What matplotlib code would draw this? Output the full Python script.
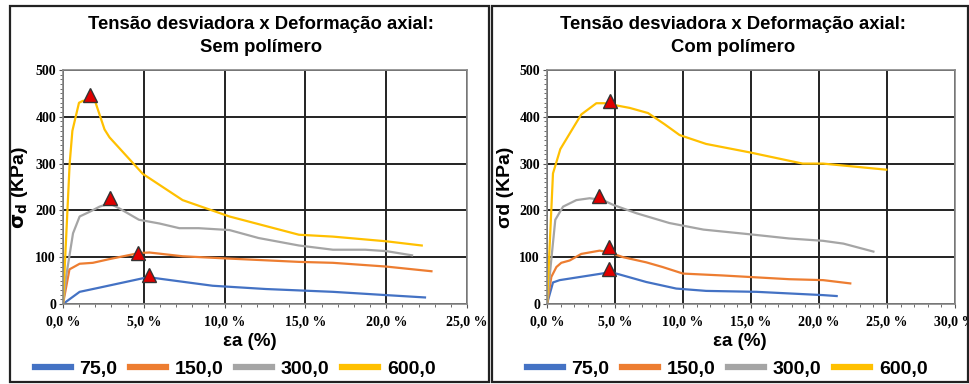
import matplotlib.pyplot as plt
from matplotlib.patches import Rectangle
from matplotlib.ticker import MultipleLocator, FuncFormatter
from matplotlib.lines import Line2D

# dados (eps_a em %, sigma_d em kPa)
labels = ["75,0", "150,0", "300,0", "600,0"]
colors = ["#4472C4", "#ED7D31", "#A5A5A5", "#FFC000"]

# sem polimero
sem_x = [
    [0, 1.03, 2.26, 4.94, 5.56, 9.26, 12.55, 16.7, 20.0, 22.4],
    [0, 0.4, 1.03, 1.85, 2.88, 4.73, 5.35, 7.4, 10.3, 14.6, 16.7, 20.0, 22.8],
    [0, 0.2, 0.62, 1.03, 1.65, 2.26, 2.88, 3.5, 4.7, 5.97, 7.2, 8.4, 10.3, 12.1, 14.6, 16.7, 18.7, 20.0, 21.6],
    [0, 0.41, 0.58, 0.99, 1.23, 1.95, 2.57, 2.88, 4.94, 7.4, 10.3, 14.6, 16.7, 20.0, 22.2],
]
sem_y = [
    [0, 26, 35, 55, 56, 39, 32, 26, 19, 14],
    [0, 74, 86, 88, 96, 109, 110, 102, 97, 90, 88, 80, 70],
    [0, 60, 151, 187, 197, 208, 215, 204, 180, 172, 162, 162, 158, 141, 125, 116, 116, 113, 104],
    [0, 299, 370, 430, 434, 437, 373, 356, 278, 222, 187, 148, 144, 134, 125],
]
sem_peak_x = [5.3, 4.67, 2.92, 1.69]
sem_peak_y = [61, 110, 227, 447]

# com polimero
com_x = [
    [0, 0.44, 0.93, 3.14, 4.24, 5.1, 7.3, 9.5, 11.7, 15.4, 20.3, 21.3],
    [0, 0.32, 0.69, 1.05, 1.67, 2.52, 3.87, 4.6, 5.6, 7.3, 8.5, 10.0, 12.9, 17.8, 20.3, 22.3],
    [0, 0.32, 0.61, 1.18, 2.16, 3.14, 4.12, 4.85, 6.57, 9.0, 11.5, 14.9, 17.8, 20.3, 21.8, 24.0],
    [0, 0.44, 0.98, 1.79, 2.52, 3.63, 4.24, 6.08, 7.43, 8.65, 9.75, 11.7, 14.9, 18.8, 20.3, 24.95],
]
com_y = [
    [0, 46, 51, 61, 66, 65, 47, 33, 28, 26, 19, 17],
    [0, 58, 79, 88, 93, 107, 114, 110, 100, 89, 79, 65, 61, 53, 51, 44],
    [0, 96, 180, 208, 222, 226, 222, 212, 194, 173, 159, 149, 140, 135, 129, 112],
    [0, 279, 331, 370, 405, 429, 429, 419, 408, 384, 361, 342, 324, 300, 300, 287],
]
com_peak_x = [4.56, 4.56, 3.82, 4.66]
com_peak_y = [74, 121, 231, 434]

W, H = 969, 384
fig = plt.figure(figsize=(W / 100, H / 100), dpi=100)


def pct(v, pos):
    return ("%.1f %%" % v).replace(".", ",")


def draw_panel(left, right, xmax, xs, ys, px, py, subtitle, ylab, box, title_x, xlab_x, leg_x):
    # moldura do painel
    fig.patches.append(Rectangle((box[0] / W, 1 - box[3] / H), (box[1] - box[0]) / W,
                                 (box[3] - box[2]) / H, transform=fig.transFigure,
                                 fill=False, edgecolor="#222222", linewidth=1.6))
    fig.text(title_x / W, 1 - 36 / H, "Tensão desviadora x Deformação axial:\n" + subtitle,
             ha="center", va="center", fontsize=13.3, fontweight="bold",
             family="Liberation Sans", linespacing=1.45)

    ax = fig.add_axes([left / W, 1 - 304 / H, (right - left) / W, (304 - 70) / H])
    for i in range(4):
        ax.plot(xs[i], ys[i], color=colors[i], linewidth=1.6)
    for i in range(4):
        ax.plot(px[i], py[i], marker="^", markersize=10, color="#E00000",
                markeredgecolor="#333333", markeredgewidth=1, linestyle="none")
    ax.set_xlim(0, xmax)
    ax.set_ylim(0, 500)
    ax.xaxis.set_major_locator(MultipleLocator(5))
    ax.xaxis.set_minor_locator(MultipleLocator(1))
    ax.yaxis.set_major_locator(MultipleLocator(100))
    ax.yaxis.set_minor_locator(MultipleLocator(10))
    ax.xaxis.set_major_formatter(FuncFormatter(pct))
    ax.grid(True, which="major", color="#222222", linewidth=1.4)
    ax.set_axisbelow(True)
    for s in ax.spines.values():
        s.set_color("#888888")
        s.set_linewidth(1.2)
    ax.tick_params(which="minor", direction="out", color="#555555", length=2)
    ax.tick_params(which="major", direction="out", color="#555555", length=3)
    ax.tick_params(axis="x", which="major", pad=5)
    ax.tick_params(axis="y", which="major", pad=2)
    for t in ax.get_xticklabels() + ax.get_yticklabels():
        t.set_fontfamily("Liberation Serif")
        t.set_fontweight("bold")
        t.set_fontsize(10)
    ax.set_ylabel(ylab, fontsize=14, fontweight="bold", family="Liberation Sans", labelpad=4)

    fig.text(xlab_x / W, 1 - 341 / H, "εa (%)", ha="center", va="center",
             fontsize=13.5, fontweight="bold", family="Liberation Sans")
    handles = [Line2D([0], [0], color=c, linewidth=4.5) for c in colors]
    fig.legend(handles, labels, loc="center", bbox_to_anchor=(leg_x / W, 1 - 369 / H), ncol=4,
               frameon=False, handlelength=1.85, columnspacing=0.65, handletextpad=0.45,
               borderpad=0, borderaxespad=0,
               prop={"family": "Liberation Sans", "weight": "bold", "size": 14})
    return ax


draw_panel(63, 467, 25, sem_x, sem_y, sem_peak_x, sem_peak_y, "Sem polímero",
           r"$\mathbf{\sigma_d}$ (KPa)", (10, 489, 6, 382), 261, 250, 235)
draw_panel(547, 955, 30, com_x, com_y, com_peak_x, com_peak_y, "Com polímero",
           "σd (KPa)", (492, 968, 6, 382), 733, 740, 727)

fig.savefig("out.png", dpi=100)
